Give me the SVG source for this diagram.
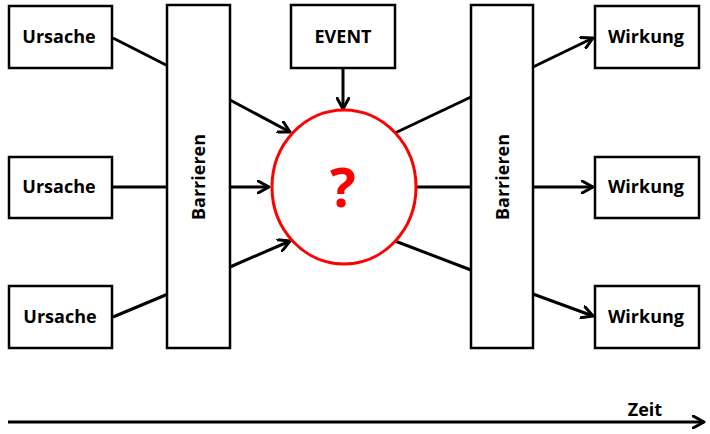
<svg xmlns="http://www.w3.org/2000/svg" width="710" height="434" viewBox="0 0 710 434">
<defs>
<marker id="ah" markerWidth="14" markerHeight="14" viewBox="-12 -7 14 14" refX="0" refY="0" orient="auto" markerUnits="userSpaceOnUse">
<path d="M-11,-6 L0,0 L-11,6" fill="none" stroke="#000" stroke-width="3" stroke-linecap="round" stroke-linejoin="round"/>
</marker>
</defs>
<style>
.box{fill:#fff;stroke:#000;stroke-width:2.5}
.lbl{font-family:"Open Sans","DejaVu Sans",sans-serif;font-weight:bold;font-size:18px;fill:#000;text-anchor:middle}
.ln{stroke:#000;stroke-width:3;fill:none}
.arr{stroke:#000;stroke-width:3;fill:none;marker-end:url(#ah)}
</style>
<rect width="710" height="434" fill="#fff"/>
<g id="connectors">
<line class="ln" x1="113" y1="38" x2="168" y2="66"/>
<line class="ln" x1="113" y1="187" x2="168" y2="187"/>
<line class="ln" x1="113" y1="317" x2="168" y2="294"/>
<line class="arr" x1="230" y1="100" x2="290" y2="132"/>
<line class="arr" x1="230" y1="187" x2="269" y2="187"/>
<line class="arr" x1="230" y1="267" x2="290" y2="241"/>
<line class="arr" x1="343" y1="68" x2="343" y2="109"/>
<line class="ln" x1="395" y1="133" x2="471" y2="97"/>
<line class="ln" x1="417" y1="187" x2="471" y2="187"/>
<line class="ln" x1="395" y1="241" x2="471" y2="270"/>
<line class="arr" x1="533" y1="67" x2="593" y2="38"/>
<line class="arr" x1="533" y1="187" x2="593" y2="187"/>
<line class="arr" x1="533" y1="294" x2="593" y2="316"/>
<line class="arr" x1="8" y1="422" x2="704" y2="422"/>
</g>
<g id="ursache1"><rect class="box" x="9" y="6" width="103" height="62"/><text class="lbl" x="59" y="43">Ursache</text></g>
<g id="ursache2"><rect class="box" x="9" y="157" width="103" height="61"/><text class="lbl" x="59" y="193">Ursache</text></g>
<g id="ursache3"><rect class="box" x="9" y="286" width="103" height="62"/><text class="lbl" x="60" y="323">Ursache</text></g>
<g id="barrieren1"><rect class="box" x="167" y="5" width="63" height="343"/><text class="lbl" transform="translate(205,177) rotate(-90)">Barrieren</text></g>
<g id="event"><rect class="box" x="291" y="5" width="104" height="63"/><text class="lbl" x="343" y="43">EVENT</text></g>
<g id="question"><ellipse cx="344" cy="187" rx="72" ry="77" fill="#fff" stroke="#ff0000" stroke-width="3"/><text x="343" y="207" font-family="'Open Sans','DejaVu Sans',sans-serif" font-weight="bold" font-size="54" fill="#ff0000" text-anchor="middle">?</text></g>
<g id="barrieren2"><rect class="box" x="471" y="5" width="62" height="343"/><text class="lbl" transform="translate(509,177) rotate(-90)">Barrieren</text></g>
<g id="wirkung1"><rect class="box" x="595" y="6" width="104" height="62"/><text class="lbl" x="646" y="43">Wirkung</text></g>
<g id="wirkung2"><rect class="box" x="595" y="157" width="104" height="61"/><text class="lbl" x="646" y="193">Wirkung</text></g>
<g id="wirkung3"><rect class="box" x="595" y="286" width="104" height="62"/><text class="lbl" x="646" y="323">Wirkung</text></g>
<g id="zeit"><text class="lbl" x="645" y="416">Zeit</text></g>
</svg>
